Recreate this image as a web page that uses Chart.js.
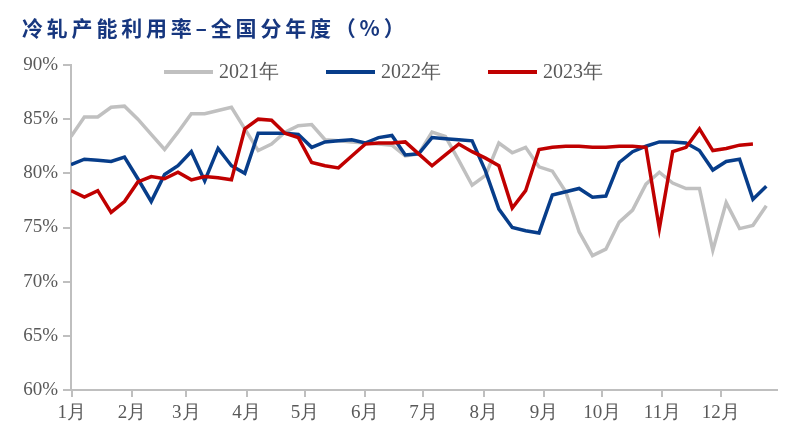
<!DOCTYPE html>
<html>
<head>
<meta charset="utf-8">
<script src="https://cdn.jsdelivr.net/npm/chart.js@4.4.1/dist/chart.umd.min.js"></script>
<style>
  body { margin: 0; background: #fff; }
  #wrap { position: relative; width: 794px; height: 437px; }
  #title {
    position: absolute; left: 22px; top: 12px;
    font: bold 21px "Noto Sans CJK SC", sans-serif;
    color: #17377f; letter-spacing: 3.8px; white-space: nowrap;
  }
  #legend {
    position: absolute; left: 164px; top: 58px;
    display: flex; gap: 47px;
    font: 20px "Liberation Serif", serif; color: #595959;
  }
  #legend .item { display: flex; align-items: center; }
  #legend .line { width: 49px; height: 4px; margin-right: 6px; }
</style>
</head>
<body>
<div id="wrap">
  <canvas id="chart" width="794" height="437"></canvas>
  <div id="title">冷轧产能利用率–全国分年度（%）</div>
  <div id="legend"></div>
</div>
<script>
// weekly capacity utilisation, %, one value per week
const rate2021 = [83.4, 85.2, 85.2, 86.1, 86.2, 85.0, 83.6, 82.2, 83.8, 85.5,
                  85.5, 85.8, 86.1, 84.1, 82.1, 82.7, 83.8, 84.4, 84.5, 83.1,
                  83.0, 82.9, 82.8, 82.7, 82.6, 81.6, 81.8, 83.8, 83.4, 81.2,
                  78.9, 79.8, 82.8, 81.9, 82.4, 80.6, 80.2, 78.3, 74.6, 72.4,
                  73.0, 75.5, 76.6, 79.0, 80.1, 79.1, 78.6, 78.6, 72.9, 77.3,
                  74.9, 75.2, 77.0];
const rate2022 = [80.8, 81.3, 81.2, 81.1, 81.5, 79.5, 77.4, 79.9, 80.7, 82.0,
                  79.3, 82.3, 80.7, 80.0, 83.7, 83.7, 83.7, 83.6, 82.4, 82.9,
                  83.0, 83.1, 82.8, 83.3, 83.5, 81.7, 81.8, 83.3, 83.2, 83.1,
                  83.0, 80.2, 76.7, 75.0, 74.7, 74.5, 78.0, 78.3, 78.6, 77.8,
                  77.9, 81.0, 82.0, 82.5, 82.9, 82.9, 82.8, 82.1, 80.3, 81.1,
                  81.3, 77.6, 78.8];
const rate2023 = [78.4, 77.8, 78.4, 76.4, 77.4, 79.2, 79.7, 79.5, 80.1, 79.4,
                  79.7, 79.6, 79.4, 84.1, 85.0, 84.9, 83.7, 83.3, 81.0, 80.7,
                  80.5, 81.6, 82.7, 82.8, 82.8, 82.9, 81.8, 80.7, 81.7, 82.7,
                  82.0, 81.4, 80.7, 76.8, 78.4, 82.2, 82.4, 82.5, 82.5, 82.4,
                  82.4, 82.5, 82.5, 82.4, 74.9, 82.0, 82.4, 84.1, 82.1, 82.3,
                  82.6, 82.7];

const seriesNames = ['2021年', '2022年', '2023年'];
const seriesColors = ['#c0c0c0', '#073d8a', '#c00000'];
const seriesValues = [rate2021, rate2022, rate2023];

const monthLabels = ['1月', '2月', '3月', '4月', '5月', '6月', '7月', '8月', '9月', '10月', '11月', '12月'];
const monthStartDays = [0, 31, 59, 90, 120, 151, 181, 212, 243, 273, 304, 334];
const yTicks = [60, 65, 70, 75, 80, 85, 90];

// points are roughly one week apart on the date axis
const DAYS_PER_POINT = 6.88;
const monthTicks = monthStartDays.map(d => d / DAYS_PER_POINT + 0.05);

const axisColor = '#bfbfbf';
const textColor = '#595959';
const tickFont = { family: 'Liberation Serif', size: 19 };

// legend (drawn inside the plot, like the original)
const legendBox = document.getElementById('legend');
seriesNames.forEach((name, i) => {
    const item = document.createElement('div');
    item.className = 'item';
    item.innerHTML = '<span class="line" style="background:' + seriesColors[i] + '"></span>' + name;
    legendBox.appendChild(item);
});

const datasets = seriesValues.map((vals, i) => ({
    label: seriesNames[i],
    data: vals.map((v, idx) => ({ x: idx, y: v })),
    borderColor: seriesColors[i],
    borderWidth: 3.5,
    pointRadius: 0,
    tension: 0,
    fill: false,
    order: 3 - i
}));

new Chart(document.getElementById('chart'), {
    type: 'line',
    data: { datasets: datasets },
    options: {
        responsive: false,
        animation: false,
        layout: { padding: { top: 65, right: 17, left: 0, bottom: 0 } },
        plugins: {
            legend: { display: false },
            tooltip: { enabled: false }
        },
        scales: {
            x: {
                type: 'linear',
                min: 0,
                max: 52.8,
                afterBuildTicks: scale => {
                    scale.ticks = monthTicks.map(v => ({ value: v }));
                },
                afterFit: scale => { scale.height = 47; },
                border: { color: axisColor, width: 2 },
                grid: {
                    drawOnChartArea: false,
                    drawTicks: true,
                    tickLength: 7,
                    color: axisColor,
                    lineWidth: 2
                },
                ticks: {
                    autoSkip: false,
                    maxRotation: 0,
                    padding: 5,
                    color: textColor,
                    font: tickFont,
                    callback: (v, idx) => monthLabels[idx]
                }
            },
            y: {
                min: 60,
                max: 90,
                afterBuildTicks: scale => {
                    scale.ticks = yTicks.map(v => ({ value: v }));
                },
                afterFit: scale => { scale.width = 71; },
                border: { color: axisColor, width: 2 },
                grid: {
                    drawOnChartArea: false,
                    drawTicks: true,
                    tickLength: 8,
                    color: axisColor,
                    lineWidth: 2
                },
                ticks: {
                    padding: 5,
                    color: textColor,
                    font: tickFont,
                    callback: v => v + '%'
                }
            }
        }
    }
});
</script>
</body>
</html>
